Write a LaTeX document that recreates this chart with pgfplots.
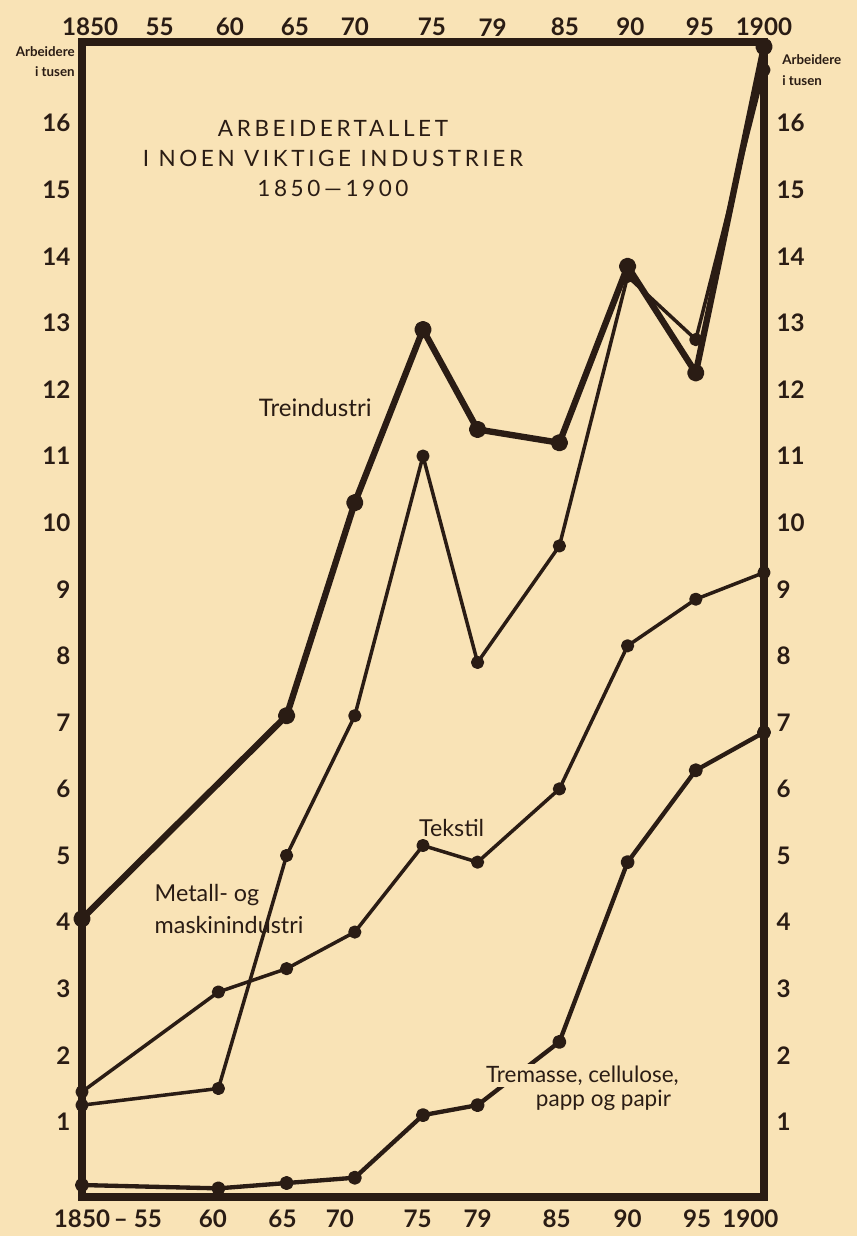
\documentclass[border=0pt]{standalone}
\usepackage{pgfplots}
\pgfplotsset{compat=1.18}
\usepackage{fontspec}
\setmainfont{Lato}
\definecolor{paper}{HTML}{F9E3B6}
\definecolor{ink}{HTML}{2A1C14}

\pgfplotstableread{
year val
1850 4.05
1865 7.1
1870 10.3
1875 12.9
1879 11.4
1885 11.2
1890 13.85
1895 12.25
1900 17.15
}\tre
\pgfplotstableread{
year val
1850 1.25
1860 1.5
1865 5.0
1870 7.1
1875 11.0
1879 7.9
1885 9.65
1890 13.7
1895 12.75
1900 16.8
}\metall
\pgfplotstableread{
year val
1850 1.45
1860 2.95
1865 3.3
1870 3.85
1875 5.15
1879 4.9
1885 6.0
1890 8.15
1895 8.85
1900 9.25
}\tekstil
\pgfplotstableread{
year val
1850 0.05
1860 0.0
1865 0.08
1870 0.16
1875 1.1
1879 1.25
1885 2.2
1890 4.9
1895 6.28
1900 6.85
}\tremasse

\begin{document}
\begin{tikzpicture}
\fill[paper] (0pt,0pt) rectangle (514.2pt,-741.6pt);
\path[use as bounding box] (0pt,0pt) rectangle (514.2pt,-741.6pt);
% secondary axis: top and right labels
\begin{axis}[at={(49.2pt,-718.2pt)}, anchor=south west, scale only axis,
  width=409.2pt, height=693pt,
  xmin=1850, xmax=1900, ymin=-0.13, ymax=17.22,
  axis line style={draw=none},
  major tick length=0pt,
  xtick={1850.6,1855.7,1860.85,1865.6,1870.0,1875.65,1880.1,1885.4,1890.2,1895.3,1900},
  xticklabels={1850,55,60,65,70,75,79,85,90,95,1900},
  xticklabel pos=top,
  ytick={1,2,...,16},
  yticklabel pos=right,
  /pgf/number format/assume math mode=true,
  /pgf/number format/1000 sep={},
  tick label style={font=\fontsize{14.5}{15}\selectfont\bfseries, text=ink},
  xticklabel style={yshift=0pt},
  yticklabel style={xshift=4pt},
]
\end{axis}
\begin{axis}[at={(49.2pt,-718.2pt)}, anchor=south west, scale only axis,
  width=409.2pt, height=693pt,
  xmin=1850, xmax=1900, ymin=-0.13, ymax=17.22,
  axis line style={line width=4.5pt, draw=ink},
  major tick length=0pt,
  clip=false,
  xtick={1850,1854.1,1859.6,1864.7,1868.9,1874.6,1879.0,1884.8,1890.0,1895.1,1899.0},
  xticklabels={1850,{\textendash\ 55},60,65,70,75,79,85,90,95,1900},
  xticklabel pos=bottom,
  ytick={1,2,...,16},
  yticklabel pos=left,
  /pgf/number format/assume math mode=true,
  tick label style={font=\fontsize{14.5}{15}\selectfont\bfseries, text=ink},
  xticklabel style={yshift=-4pt},
  yticklabel style={xshift=-3.4pt},
  every axis plot/.append style={draw=ink, line join=round, line cap=round,
     mark=*, mark options={fill=ink, draw=ink, solid}},
]
\addplot[line width=3.8pt, mark size=3.3pt] table[x=year,y=val]{\tre};
\addplot[line width=2.1pt, mark size=2.9pt] table[x=year,y=val]{\metall};
\addplot[line width=2.1pt, mark size=2.9pt] table[x=year,y=val]{\tekstil};
\addplot[line width=2.6pt, mark size=2.9pt] table[x=year,y=val]{\tremasse};

\node[align=center, text=ink, font=\fontsize{13.5}{18}\selectfont\addfontfeatures{LetterSpace=16}]
  at (axis cs:1868.4,15.47) {ARBEIDERTALLET\\I NOEN VIKTIGE INDUSTRIER\\1850\textemdash1900};
\node[text=ink, font=\fontsize{14.5}{15}\selectfont] at (axis cs:1867.1,11.72) {Treindustri};
\node[text=ink, font=\fontsize{14}{15}\selectfont] at (axis cs:1877.1,5.41) {Tekstil};
\node[text=ink, anchor=west, align=left, font=\fontsize{14}{19}\selectfont] at (axis cs:1854.9,4.2) {Metall- og\\maskinindustri};
\node[text=ink, anchor=east, fill=paper, inner sep=1pt, font=\fontsize{13.5}{14}\selectfont] at (axis cs:1893.9,1.69) {Tremasse, cellulose,};
\node[text=ink, anchor=east, inner sep=0pt, font=\fontsize{13.5}{14}\selectfont] at (axis cs:1893.2,1.32) {papp og papir};
\end{axis}
\node[anchor=north east, align=right, text=ink, inner sep=0pt, font=\fontsize{8}{12}\selectfont\bfseries] at (45pt,-28pt) {Arbeidere\\i tusen};
\node[anchor=north west, align=left, text=ink, inner sep=0pt, font=\fontsize{8}{12.5}\selectfont\bfseries] at (469.2pt,-32.5pt) {Arbeidere\\i tusen};
\end{tikzpicture}
\end{document}
